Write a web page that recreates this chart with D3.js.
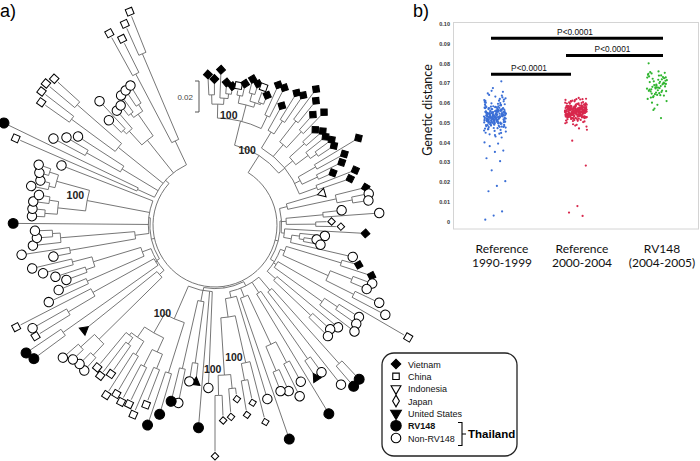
<!DOCTYPE html>
<html><head><meta charset="utf-8">
<script src="https://cdn.jsdelivr.net/npm/d3@7"></script>
<style>body{margin:0;background:#fff}svg{display:block}</style>
</head><body>
<svg id="c" width="700" height="461"></svg>
<script>
// ================= DATA =================
// Panel a: tips in circular order. Country code per tip:
// V Vietnam, C China, I Indonesia, J Japan, U United States, R Thailand RV148, N Thailand non-RV148
const tipCountry = ("VVVVVCVVVC" + "VVVVVVVVVV" + "VVVVVVVVVV" + "VIVNNNNJJV" + "NNNNVVNNNN" +
  "CNNNNNNRRN" + "NURNNNNRNJ" + "JJJJJJNRUN" + "NRRRCCCCCC" + "CCCNNNNURR" +
  "CNCNNNNNNN" + "NNNNRNNNNN" + "NNNNCRNNNC" + "CCCNNNNNNN" + "CCCC").split("");
// root-to-tip genetic distance of each tip (x 0.001)
const tipDist = [54,51,57,49,47,48,50,54,52,51, 47,56,56,45,57,58,66,60,52,58,
  46,49,48,50,49,65,52,48,40,54, 49,29,57,58,57,39,63,32,38,54,
  28,23,26,48,53,63,65,63,74,81, 101,67,68,70,60,57,59,93,94,88,
  74,75,99,72,80,74,72,103,74,88, 74,81,70,81,83,106,62,88,59,59,
  74,74,84,93,81,90,85,86,83,87, 74,79,76,83,82,83,87,65,102,104,
  93,92,101,75,66,59,65,72,78,63, 83,75,72,73,87,75,75,75,72,78,
  73,75,77,63,97,108,75,68,62,94, 98,99,97,53,66,54,55,60,61,62,
  98,91,99,105];
// topology: (children)nodeDepth ; leaves are tip numbers ; * = bootstrap 100
const cladeVietnam = "((((1,2)44,(3,(4,5)45)42)38,((6,7)45,((8,9)48,(10,11)44)43)40,(12,13)38)29*," +
  "((14,(15,16)40)30,((17,18)45,(19,20)42)28,((21,22)38,(23,(24,25)40)35)25,((26,27)35,(28,29)33)22,(30,31)30)18)13*";
const cladeRight = "(((32,(33,(34,35)50)40)8,((36,37)30,(38,39)25)6,(40,((41,(42,43)18)15,44)10)5)3," +
  "(((45,46)45,((47,48)55,(49,50)60)40)8,(51,((52,53)55,54)45)7,(55,(56,57)45)12)5)2";
const cladeBottom = "((((58,59)80,60)15,((61,62)65,63)12,(((64,65)60,(66,67)62)45,68)10," +
  "(69,((70,(71,72)62)51*,((73,74)66,(75,76)70)57*)20)8)4," +
  "(77,78,((79,80)50,(81,82)55)10,((83,84)60,(((85,86)60,(87,88)62)50,((89,90)58,((91,92)55,93)50)48)40)26*)3)1";
const cladeLeft = "(((((94,95)75,(96,97)77)65,98)8,((99,100)80,((101,102)70,103)50)5,((104,105)50,((106,107)48,(108,109)55)42)10)4," +
  "(((110,111)55,(112,(113,114)65)60)12,115,(((116,117)70,(118,119)68)62,((120,121)70,(122,123)72)66)44*,124)3)2";
const cladeTop = "((125,126)15,((127,128)55,129)30,((130,131)75,(132,133)78)40," +
  "(((134,135)45,136)42,((137,138)50,(139,140)52)47)30,((141,142)70,(143,144)80)20)3";
const treeString = `(${cladeVietnam},${cladeRight},${cladeBottom},${cladeLeft},${cladeTop})0`;

const legendItems = [
  {code:"V", label:"Vietnam"}, {code:"C", label:"China"}, {code:"I", label:"Indonesia"},
  {code:"J", label:"Japan"}, {code:"U", label:"United States"},
  {code:"R", label:"RV148", bold:true}, {code:"N", label:"Non-RV148"}];

// Panel b: genetic distance (x 0.001)
const categories = ["Reference 1990-1999", "Reference 2000-2004", "RV148 (2004-2005)"];
const catLines = [["Reference","1990-1999"],["Reference","2000-2004"],["RV148","(2004-2005)"]];
const ref9099 = [53.2,55.8,50.4,57.1,52.6,48.9,54.7,51.3,59.4,53.8,46.7,56.2,52.1,60.6,49.7,54.1,51.8,57.9,53.5,50.1,
  55.3,62.4,52.9,47.8,54.4,51.0,58.6,53.0,49.2,56.7,52.4,55.0,44.9,53.7,61.5,50.7,54.9,57.5,51.6,48.3,
  53.3,59.9,52.2,55.6,50.0,63.8,54.2,47.1,56.4,52.8,51.4,58.1,53.9,49.5,55.1,45.6,57.3,52.5,54.6,50.8,
  60.2,53.1,48.6,56.0,51.9,64.9,54.0,52.0,57.7,49.9,53.6,55.5,43.8,51.2,58.9,52.7,54.8,50.5,56.9,53.4,
  47.4,61.1,52.3,55.9,49.0,54.3,51.7,59.1,53.0,46.1,56.5,52.9,65.7,50.3,55.2,48.0,57.0,53.8,51.1,54.5,
  42.6,58.4,52.6,55.7,49.4,60.9,53.2,50.9,56.3,52.0,47.6,54.1,51.5,62.9,53.5,45.0,57.6,50.2,55.4,52.4,
  48.8,56.8,54.4,51.3,59.6,44.2,53.9,49.8,58.0,52.8,66.2,50.6,55.0,46.9,54.9,51.8,57.4,48.5,53.3,61.8,
  43.1,52.1,56.1,50.0,54.7,47.3,64.1,53.6,49.1,55.8,
  52.7,54.9,50.6,56.3,53.1,49.6,55.4,51.9,58.3,53.7,47.9,55.9,52.3,60.0,50.8,54.2,51.2,57.2,53.4,49.3,
  55.6,61.2,52.5,48.4,54.6,51.7,58.8,53.0,50.2,56.6,52.9,54.0,45.9,53.8,62.1,51.4,55.1,57.8,50.9,48.1,
  53.5,59.3,52.0,56.0,50.4,63.3,54.5,46.4,56.9,52.2,51.5,57.5,54.3,49.9,55.3,44.5,58.2,52.6,54.8,51.0,
  71.0,67.6,40.1,39.5,38.2,36.0,35.3,32.1,30.6,26.0,20.5,18.1,15.4,5.2,3.1,1.0];
const ref0004 = [55.9,54.3,57.2,52.8,56.4,58.6,53.7,55.1,59.9,51.6,56.8,54.9,57.9,53.2,55.5,60.7,52.4,56.1,54.6,58.2,
  50.9,55.7,57.4,53.9,56.6,61.5,54.1,55.3,52.1,58.9,56.2,53.5,57.6,55.0,49.8,56.9,54.4,59.3,55.8,52.6,
  57.1,54.8,62.2,53.1,56.3,55.4,58.4,51.2,56.7,54.0,57.8,55.6,53.4,60.1,56.0,52.9,55.2,58.0,54.7,48.6,
  56.5,57.3,53.8,55.9,59.6,54.2,56.4,51.9,57.5,55.1,61.0,53.3,56.8,54.5,58.7,52.3,55.7,57.0,54.9,50.4,
  56.1,58.3,53.6,55.4,59.0,54.1,56.9,52.7,57.7,55.3,62.6,53.0,56.2,54.6,58.1,51.5,55.8,57.2,54.3,60.4,
  56.6,53.7,55.0,58.8,52.0,56.3,54.8,57.9,55.5,49.3,56.7,53.9,59.7,55.2,57.4,54.4,61.8,52.5,56.0,55.6,
  58.5,53.2,57.1,54.0,47.2,56.4,55.9,59.2,53.5,57.6,54.7,56.8,51.0,58.2,55.1,60.9,53.8,56.5,54.2,57.8,
  52.2,55.7,58.9,54.9,46.5,56.1,57.3,53.1,55.4,59.8,54.5,56.9,52.8,57.0,55.3,62.0,53.4,56.2,54.1,58.6,
  50.7,55.8,57.5,53.6,56.6,48.1,59.4,54.6,55.0,57.7,
  56.0,54.6,57.5,53.0,56.7,58.3,54.0,55.4,60.2,52.1,57.0,55.2,58.1,53.6,55.8,61.2,52.7,56.4,54.8,58.5,
  51.4,55.9,57.7,54.2,56.9,62.0,54.3,55.6,52.4,59.2,56.5,53.8,57.9,55.3,50.2,57.2,54.7,59.6,56.1,52.9,
  57.4,55.0,61.6,53.4,56.6,55.7,58.7,51.8,57.0,54.3,58.0,55.9,53.7,60.5,56.3,53.2,55.5,58.3,55.0,49.0,
  56.8,57.6,54.1,56.2,59.9,54.5,56.7,52.5,57.8,55.4,
  41.0,28.4,7.9,4.6,2.9];
const rv148 = [67.3,70.1,64.8,72.6,68.9,66.2,74.0,63.5,69.7,71.8,65.9,73.2,67.9,62.1,70.8,68.2,75.3,64.1,66.8,72.0,
  69.1,61.0,73.9,67.0,70.4,65.3,74.8,68.6,63.0,71.3,66.5,75.7,69.5,64.5,72.9,67.6,60.2,70.0,68.0,73.5,
  65.6,71.0,66.0,76.0,62.8,69.9,67.4,74.3,64.0,72.3,68.4,59.1,70.6,66.3,57.2,71.6,65.0,75.0,63.8,69.3,
  80.1,52.4,56.5,73.0,67.8];
const seriesColors = ["#3b6fd6", "#d8284d", "#2fb52f"];
const yTicks = [0,0.01,0.02,0.03,0.04,0.05,0.06,0.07,0.08,0.09,0.10];
const comparisons = [{a:0,b:2,y:0.0928,label:"P<0.0001"},{a:1,b:2,y:0.0841,label:"P<0.0001"},{a:0,b:1,y:0.0746,label:"P<0.0001"}];

// ================= PANEL A: TREE =================
const svg = d3.select("#c");
const SANS = "'Liberation Sans', Arial, sans-serif";
function parseTree(s){
  let i = 0;
  function num(){ const j = i; while (i < s.length && /[0-9.]/.test(s[i])) i++; return +s.slice(j, i); }
  function node(){
    if (s[i] === "("){
      i++; const children = [node()];
      while (s[i] === ","){ i++; children.push(node()); }
      i++;
      const depth = num(); let support = false;
      if (s[i] === "*"){ support = true; i++; }
      return {children, depth, support};
    }
    const k = num() - 1;
    return {leaf:k, depth:tipDist[k], country:tipCountry[k]};
  }
  return node();
}
const root = d3.hierarchy(parseTree(treeString), d => d.children);
d3.cluster().size([1,1]).separation(() => 1)(root);
const nLeaves = root.leaves().length;
// angular calibration of the circular layout (tip number -> degrees clockwise from top)
const calTips = [1, 50, 76, 100, 126, 144], calDeg = [357.3, 477.8, 540, 595.9, 655.8, 698.2];
const angle = d3.scaleLinear().domain(calTips.map(t => (t - 0.5)/nLeaves)).range(calDeg);
const radius = d3.scaleLinear().domain([0, 20]).range([62, 93]);   // 0.02 substitutions = 31 px
const cx = 215, cy = 225, RAD = Math.PI/180;
function pt(a, r){ return [cx + r*Math.sin(a*RAD), cy - r*Math.cos(a*RAD)]; }

const gA = svg.append("g");
const p = d3.path();
root.each(n => {
  if (!n.children) return;
  const r = radius(n.data.depth);
  const as = n.children.map(c => angle(c.x));
  const a0 = d3.min(as), a1 = d3.max(as);
  const s0 = pt(a0, r);
  p.moveTo(s0[0], s0[1]);
  p.arc(cx, cy, r, (a0-90)*RAD, (a1-90)*RAD, false);
  n.children.forEach(c => {
    const a = angle(c.x);
    const q0 = pt(a, r), q1 = pt(a, radius(c.data.depth));
    p.moveTo(q0[0], q0[1]); p.lineTo(q1[0], q1[1]);
  });
});
gA.append("path").attr("d", p.toString()).attr("fill","none").attr("stroke","#666").attr("stroke-width",0.9);

const symSpec = {
  V:{type:d3.symbolSquare, size:40, rot:45, fill:"#000"},
  C:{type:d3.symbolSquare, size:46, rot:0, fill:"#fff"},
  I:{type:d3.symbolTriangle, size:34, rot:180, fill:"#fff"},
  J:{type:d3.symbolSquare, size:28, rot:45, fill:"#fff"},
  U:{type:d3.symbolTriangle, size:36, rot:180, fill:"#000"},
  R:{type:d3.symbolCircle, size:78, rot:0, fill:"#000"},
  N:{type:d3.symbolCircle, size:70, rot:0, fill:"#fff"}
};
gA.selectAll("path.tip").data(root.leaves()).join("path")
  .attr("class","tip")
  .attr("d", d => d3.symbol(symSpec[d.data.country].type, symSpec[d.data.country].size)())
  .attr("transform", d => {
    const a = angle(d.x); const q = pt(a, radius(d.data.depth) + 5);
    return `translate(${q[0]},${q[1]}) rotate(${a + symSpec[d.data.country].rot})`;
  })
  .attr("fill", d => symSpec[d.data.country].fill)
  .attr("stroke","#000").attr("stroke-width",1);

// bootstrap labels
gA.selectAll("text.bs").data(root.descendants().filter(n => n.data.support)).join("text")
  .attr("class","bs")
  .attr("x", d => pt(angle(d.x), radius(d.data.depth))[0] - 3)
  .attr("y", d => pt(angle(d.x), radius(d.data.depth))[1] - 2)
  .attr("text-anchor","end").attr("font-family",SANS).attr("font-weight","bold")
  .attr("font-size",10.5).attr("fill","#222").text("100");

// scale bar (0.02)
const sbX = 199, sbTop = 81, sbLen = radius(20) - radius(0);
gA.append("path").attr("d", `M${sbX-4},${sbTop}H${sbX}V${sbTop+sbLen}H${sbX-4}`)
  .attr("fill","none").attr("stroke","#555").attr("stroke-width",1);
gA.append("text").attr("x", sbX-6).attr("y", sbTop + sbLen/2 + 3).attr("text-anchor","end")
  .attr("font-family",SANS).attr("font-size",8).attr("fill","#444").text("0.02");

svg.append("text").attr("x",0).attr("y",17).attr("font-family",SANS).attr("font-size",18).text("a)");

// legend
const lg = svg.append("g");
lg.append("rect").attr("x",382).attr("y",353).attr("width",135).attr("height",103).attr("rx",12)
  .attr("fill","#fff").attr("stroke","#222").attr("stroke-width",1.3);
const legSym = {
  V:{type:d3.symbolSquare, size:45, rot:45, fill:"#000"},
  C:{type:d3.symbolSquare, size:42, rot:0, fill:"#fff"},
  I:{type:d3.symbolTriangle, size:42, rot:180, fill:"#fff"},
  J:{type:d3.symbolDiamond, size:40, rot:0, fill:"#fff"},
  U:{type:d3.symbolTriangle, size:50, rot:180, fill:"#000"},
  R:{type:d3.symbolCircle, size:85, rot:0, fill:"#000"},
  N:{type:d3.symbolCircle, size:72, rot:0, fill:"#fff"}
};
const legY = d3.scalePoint().domain(legendItems.map(d => d.code)).range([364, 438]);
lg.selectAll("path").data(legendItems).join("path")
  .attr("d", d => d3.symbol(legSym[d.code].type, legSym[d.code].size)())
  .attr("transform", d => `translate(396,${legY(d.code)}) rotate(${legSym[d.code].rot})`)
  .attr("fill", d => legSym[d.code].fill).attr("stroke","#000").attr("stroke-width",1.1);
lg.selectAll("text").data(legendItems).join("text")
  .attr("x",408).attr("y", d => legY(d.code) + 3.5)
  .attr("font-family",SANS).attr("font-size",9).attr("font-weight", d => d.bold ? "bold" : "normal")
  .attr("fill","#111").text(d => d.label);
lg.append("path").attr("d","M458,422.5H462V445.5H458M462,434H466")
  .attr("fill","none").attr("stroke","#000").attr("stroke-width",1.1);
lg.append("text").attr("x",468).attr("y",438).attr("font-family",SANS).attr("font-size",11.5)
  .attr("font-weight","bold").text("Thailand");

// ================= PANEL B: STRIP PLOT =================
const gB = svg.append("g");
const y = d3.scaleLinear().domain([0, 0.10]).range([221.7, 24]);
const x = d3.scalePoint().domain(categories).range([495, 657]);
const xLab = d3.scalePoint().domain(categories).range([502, 662]);
gB.append("rect").attr("x",453.5).attr("y",22.5).attr("width",245).attr("height",206.5)
  .attr("fill","none").attr("stroke","#d4d4d4").attr("stroke-width",1);
gB.selectAll("text.yt").data(yTicks).join("text").attr("class","yt")
  .attr("x",450).attr("y", d => y(d) + 2)
  .attr("text-anchor","end").attr("font-family",SANS).attr("font-size",5.5).attr("font-weight","bold")
  .attr("fill","#333").text(d => d === 0 ? "0" : d.toFixed(2));
gB.append("text").attr("transform","translate(432,110) rotate(-90)").attr("text-anchor","middle")
  .attr("font-family","Lato, sans-serif").attr("font-size",12.5).attr("fill","#111").text("Genetic distance");
const series = [ref9099, ref0004, rv148];
const halfW = [11, 11, 10];
series.forEach((vals, si) => {
  gB.append("g").selectAll("circle").data(vals).join("circle")
    .attr("cx", (d, i) => x(categories[si]) + (((i * 0.6180339887) % 1) - 0.5) * 2 * halfW[si])
    .attr("cy", d => y(d / 1000))
    .attr("r", 1.1).attr("fill", seriesColors[si]);
});
comparisons.forEach(c => {
  const xs = x(categories[c.a]) - (c.a === 1 ? 10 : 4);
  const xe = x(categories[c.b]) + (c.b === 2 ? 6 : -5);
  gB.append("line").attr("x1", xs).attr("x2", xe).attr("y1", y(c.y)).attr("y2", y(c.y))
    .attr("stroke","#000").attr("stroke-width",3);
  gB.append("text").attr("x", (xs + xe)/2 - 2).attr("y", y(c.y) - 3.5).attr("text-anchor","middle")
    .attr("font-family",SANS).attr("font-size",8.3).attr("fill","#111").text(c.label);
});
catLines.forEach((lines, i) => {
  gB.append("text").attr("text-anchor","middle").attr("font-family","Lato, sans-serif").attr("font-size",12)
    .attr("fill","#111")
    .selectAll("tspan").data(lines).join("tspan")
    .attr("x", xLab(categories[i])).attr("y", (d, j) => 252.5 + j*14.5).text(d => d);
});
svg.append("text").attr("x",413).attr("y",17).attr("font-family",SANS).attr("font-size",18).text("b)");
</script>
</body></html>
